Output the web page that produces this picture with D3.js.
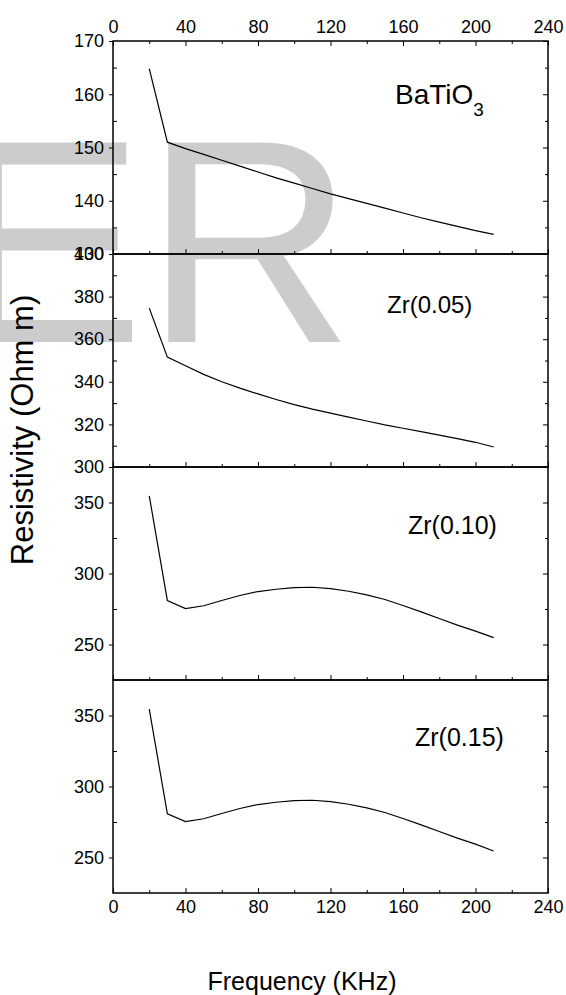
<!DOCTYPE html>
<html>
<head>
<meta charset="utf-8">
<script src="https://cdn.jsdelivr.net/npm/d3@7"></script>
<style>
  body { margin: 0; background: #fff; }
  text { font-family: Arial, "Liberation Sans", sans-serif; }
</style>
</head>
<body>
<script>
// frequency (KHz)
const freq = [20, 30, 40, 50, 60, 70, 80, 90, 100, 110, 120, 130, 140, 150, 160, 170, 180, 190, 200, 210];

// resistivity (Ohm m) per composition
const batio3 = [164.8, 151.0, 149.8, 148.7, 147.6, 146.5, 145.4, 144.3, 143.3, 142.3, 141.3, 140.4, 139.5, 138.6, 137.7, 136.8, 136.0, 135.2, 134.4, 133.7];
const zr005 = [374.6, 351.6, 347.5, 343.5, 340.0, 337.0, 334.3, 331.7, 329.3, 327.2, 325.3, 323.4, 321.6, 319.8, 318.2, 316.6, 315.0, 313.3, 311.6, 309.4];
const zr010 = [354.7, 281.0, 275.3, 277.3, 281.0, 284.5, 287.3, 288.9, 290.0, 290.3, 289.4, 287.5, 285.0, 281.7, 277.5, 273.0, 268.3, 263.6, 259.4, 254.8];
const zr015 = [354.5, 280.8, 275.3, 277.3, 281.0, 284.5, 287.3, 288.9, 290.0, 290.3, 289.4, 287.5, 285.0, 281.7, 277.5, 273.0, 268.3, 263.6, 259.4, 254.6];

const series = [batio3, zr005, zr010, zr015];
const panelLabels = ["BaTiO", "Zr(0.05)", "Zr(0.10)", "Zr(0.15)"];
const yDomains = [[130, 170], [300, 400], [225, 375], [225, 375]];
const yMajor = [[130, 140, 150, 160, 170], [300, 320, 340, 360, 380, 400], [250, 300, 350], [250, 300, 350]];
const yMinor = [[135, 145, 155, 165], [310, 330, 350, 370, 390], [275, 325], [275, 325]];
const xMajor = [0, 40, 80, 120, 160, 200, 240];
const xMinor = [20, 60, 100, 140, 180, 220];

const width = 566, height = 995;
const plotLeft = 113, plotRight = 548, plotTop = 41, panelH = 213;

const svg = d3.select("body").append("svg")
    .attr("width", width)
    .attr("height", height);

// watermark behind everything
svg.append("text")
    .attr("x", -49)
    .attr("y", 342)
    .attr("fill", "#cccccc")
    .attr("textLength", 403)
    .attr("lengthAdjust", "spacingAndGlyphs")
    .style("font-family", "'Liberation Sans', Arial, sans-serif")
    .style("font-size", "290px")
    .text("ER");

const x = d3.scaleLinear().domain([0, 240]).range([plotLeft, plotRight]);

series.forEach((vals, i) => {
    const y0 = plotTop + i * panelH;
    const y = d3.scaleLinear().domain(yDomains[i]).range([y0 + panelH, y0]);
    const g = svg.append("g");

    const tidy = a => a.call(s => s.select(".domain").remove())
        .call(s => s.selectAll(".tick line").attr("stroke", "#000"))
        .call(s => s.selectAll(".tick text").style("font-size", "18px").attr("fill", "#000"));

    // left axis: major ticks out, minor ticks in
    g.append("g").attr("transform", `translate(${plotLeft},0)`)
        .call(d3.axisLeft(y).tickValues(yMajor[i]).tickSize(4).tickSizeOuter(0).tickPadding(5))
        .call(tidy);
    g.append("g").attr("transform", `translate(${plotLeft},0)`)
        .call(d3.axisLeft(y).tickValues(yMinor[i]).tickSize(-4).tickSizeOuter(0).tickFormat(""))
        .call(tidy);

    // right axis: ticks inward
    g.append("g").attr("transform", `translate(${plotRight},0)`)
        .call(d3.axisRight(y).tickValues(yMajor[i]).tickSize(-5).tickSizeOuter(0).tickFormat(""))
        .call(tidy);
    g.append("g").attr("transform", `translate(${plotRight},0)`)
        .call(d3.axisRight(y).tickValues(yMinor[i]).tickSize(-3).tickSizeOuter(0).tickFormat(""))
        .call(tidy);

    // bottom axis of each panel (labels only on the last one)
    const last = i === series.length - 1;
    const xb = d3.axisBottom(x).tickValues(xMajor).tickSize(-5).tickSizeOuter(0).tickPadding(7);
    if (!last) xb.tickFormat("");
    g.append("g").attr("transform", `translate(0,${y0 + panelH})`).call(xb).call(tidy);
    g.append("g").attr("transform", `translate(0,${y0 + panelH})`)
        .call(d3.axisBottom(x).tickValues(xMinor).tickSize(-3).tickSizeOuter(0).tickFormat(""))
        .call(tidy);

    if (i === 0) {
        g.append("g").attr("transform", `translate(0,${y0})`)
            .call(d3.axisTop(x).tickValues(xMajor).tickSize(-5).tickSizeOuter(0).tickPadding(8))
            .call(tidy);
        g.append("g").attr("transform", `translate(0,${y0})`)
            .call(d3.axisTop(x).tickValues(xMinor).tickSize(-3).tickSizeOuter(0).tickFormat(""))
            .call(tidy);
    }

    // frame
    g.append("rect")
        .attr("x", plotLeft).attr("y", y0)
        .attr("width", plotRight - plotLeft).attr("height", panelH)
        .attr("fill", "none").attr("stroke", "#000").attr("stroke-width", 1.5);

    const line = d3.line().x((d, k) => x(freq[k])).y(d => y(d));
    g.append("path")
        .datum(vals)
        .attr("fill", "none")
        .attr("stroke", "#000")
        .attr("stroke-width", 1.2)
        .attr("d", line);
});

// panel labels
const labelPos = [[395, 104], [387, 313], [408, 534], [415, 746]];
const labelSize = [28, 24, 25, 25];
panelLabels.forEach((t, i) => {
    const lab = svg.append("text")
        .attr("x", labelPos[i][0]).attr("y", labelPos[i][1])
        .style("font-size", labelSize[i] + "px")
        .text(t);
    if (i === 0) {
        lab.append("tspan").attr("dy", 12).style("font-size", "19px").text("3");
    }
});

// axis titles
svg.append("text")
    .attr("x", 302).attr("y", 990)
    .attr("text-anchor", "middle")
    .style("font-size", "25px")
    .text("Frequency (KHz)");

svg.append("text")
    .attr("transform", "translate(33,430) rotate(-90)")
    .attr("text-anchor", "middle")
    .style("font-size", "31px")
    .text("Resistivity (Ohm m)");
</script>
</body>
</html>
